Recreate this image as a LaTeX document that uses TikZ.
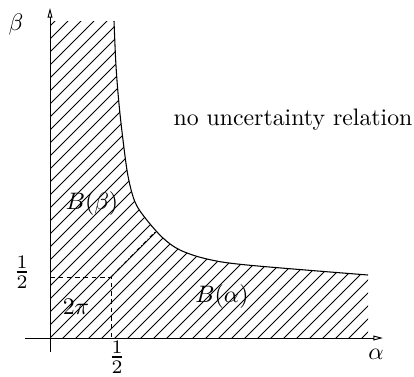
\documentclass[tikz,border=0pt]{standalone}
\usetikzlibrary{arrows.meta}
\begin{document}
\begin{tikzpicture}[x=0.42pt,y=-0.42pt,
  axis/.style={line width=0.4pt,-{Triangle[open,length=4pt,width=2pt]}},
  hatch/.style={line width=0.35pt},
  bound/.style={line width=0.45pt},
  guide/.style={line width=0.4pt,dash pattern=on 2pt off 1.5pt},
  diag/.style={line width=0.4pt,dash pattern=on 1.6pt off 1pt on 0.3pt off 1pt},
  lbl/.style={inner sep=0pt},
  frac/.style={inner sep=0pt,scale=1.15}]
\def\bcurve{(114,21) (116,66) (119,104) (123,140) (128,176) (135,202) (146,219) (163,238) (180,250) (207,259) (247,265) (368,275)}
\useasboundingbox[fill=white] (0,0) rectangle (414,376);
% hatched region
\begin{scope}
\clip (50,21) -- plot[smooth,tension=0.55] coordinates \bcurve -- (368,338) -- (50,338) -- cycle;
\foreach \k in {-26,...,26}
  \draw[hatch] ({388+13*\k-345},345) -- ({388+13*\k-10},10);
\end{scope}
\draw[bound] plot[smooth,tension=0.55] coordinates \bcurve;
% axes
\coordinate (xs) at (25,338);
\coordinate (xe) at (383,338);
\coordinate (ys) at (50,352);
\coordinate (ye) at (50,8);
\draw[axis] (xs) -- (xe);
\draw[axis] (ys) -- (ye);
% guides
\coordinate (hy) at (50,277);
\coordinate (hp) at (111,277);
\coordinate (hx) at (111,338);
\coordinate (dd) at (155,232);
\draw[guide] (hy) -- (hp) -- (hx);
\draw[diag] (hp) -- (dd);
% labels
\node[lbl] (beta) at (16,25) {$\beta$};
\node[lbl] (alpha) at (376,354) {$\alpha$};
\node[frac] (yhalf) at (22,272) {$\frac{1}{2}$};
\node[frac] (xhalf) at (117,357) {$\frac{1}{2}$};
\node[lbl,anchor=base] (nur) at (293,125) {no uncertainty relation};
\node[lbl,anchor=base] (Bb) at (92,209) {$B(\beta)$};
\node[lbl,anchor=base] (Ba) at (222,302) {$B(\alpha)$};
\node[lbl,anchor=base] (tp) at (76,314) {$2\pi$};
\end{tikzpicture}
\end{document}
